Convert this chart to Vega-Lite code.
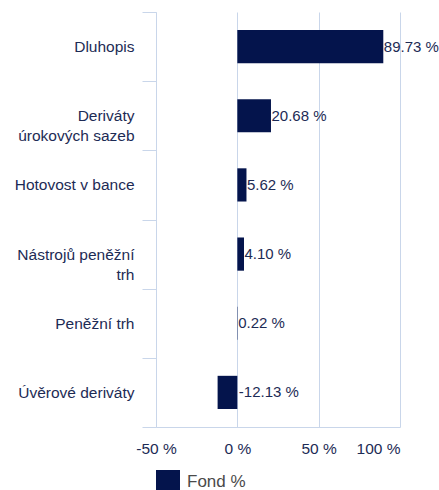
{
  "$schema": "https://vega.github.io/schema/vega-lite/v6.json",
  "width": 244,
  "height": 415,
  "autosize": {"type": "none"},
  "padding": {"left": 156, "top": 12, "right": 39, "bottom": 63},
  "background": "white",
  "config": {
    "view": {"stroke": null},
    "font": "Liberation Sans"
  },
  "data": {
    "values": [
      {"category": "Dluhopis", "value": 89.73, "label": "89.73 %", "series": "Fond %"},
      {"category": "Deriváty|úrokových sazeb", "value": 20.68, "label": "20.68 %", "series": "Fond %"},
      {"category": "Hotovost v bance", "value": 5.62, "label": "5.62 %", "series": "Fond %"},
      {"category": "Nástrojů peněžní|trh", "value": 4.10, "label": "4.10 %", "series": "Fond %"},
      {"category": "Peněžní trh", "value": 0.22, "label": "0.22 %", "series": "Fond %"},
      {"category": "Úvěrové deriváty", "value": -12.13, "label": "-12.13 %", "series": "Fond %"}
    ]
  },
  "encoding": {
    "y": {
      "field": "category",
      "type": "nominal",
      "sort": null,
      "scale": {"paddingInner": 0, "paddingOuter": 0},
      "axis": {
        "title": null,
        "labelExpr": "split(datum.label, '|')",
        "labelFontSize": 15.5,
        "labelColor": "#1d2b55",
        "labelLineHeight": 20,
        "labelLimit": 200,
        "labelPadding": 8,
        "tickSize": 14,
        "tickColor": "#c9d6ea",
        "tickBand": "extent",
        "domainColor": "#c9d6ea",
        "grid": false
      }
    }
  },
  "layer": [
    {
      "mark": {"type": "bar", "height": {"band": 0.48}},
      "encoding": {
        "x": {
          "field": "value",
          "type": "quantitative",
          "scale": {"domain": [-50, 100], "nice": false, "zero": true},
          "axis": {
            "title": null,
            "values": [-50, 0, 50, 100],
            "labelExpr": "datum.value + ' %'",
            "labelFontSize": 15.5,
            "labelColor": "#1d2b55",
            "labelAlign": {"condition": {"test": "datum.value == 100", "value": "right"}, "value": "center"},
            "labelPadding": 14,
            "ticks": false,
            "tickSize": 0,
            "grid": true,
            "gridColor": "#c9d6ea",
            "domainColor": "#c9d6ea"
          }
        },
        "color": {
          "field": "series",
          "type": "nominal",
          "scale": {"range": ["#04144c"]},
          "legend": {
            "title": null,
            "orient": "none",
            "legendX": 0,
            "legendY": 458,
            "padding": 0,
            "symbolType": "square",
            "symbolSize": 576,
            "symbolStrokeWidth": 0,
            "labelFontSize": 17,
            "labelColor": "#4a4a4a",
            "labelOffset": 7
          }
        }
      }
    },
    {
      "transform": [{"filter": "datum.value >= 0"}],
      "mark": {"type": "text", "align": "left", "baseline": "middle", "dx": 0.5, "fontSize": 15, "color": "#1d2b55"},
      "encoding": {
        "x": {"field": "value", "type": "quantitative"},
        "text": {"field": "label"}
      }
    },
    {
      "transform": [{"filter": "datum.value < 0"}],
      "mark": {"type": "text", "align": "left", "baseline": "middle", "dx": 1.5, "fontSize": 15, "color": "#1d2b55"},
      "encoding": {
        "x": {"datum": 0, "type": "quantitative"},
        "text": {"field": "label"}
      }
    }
  ]
}
